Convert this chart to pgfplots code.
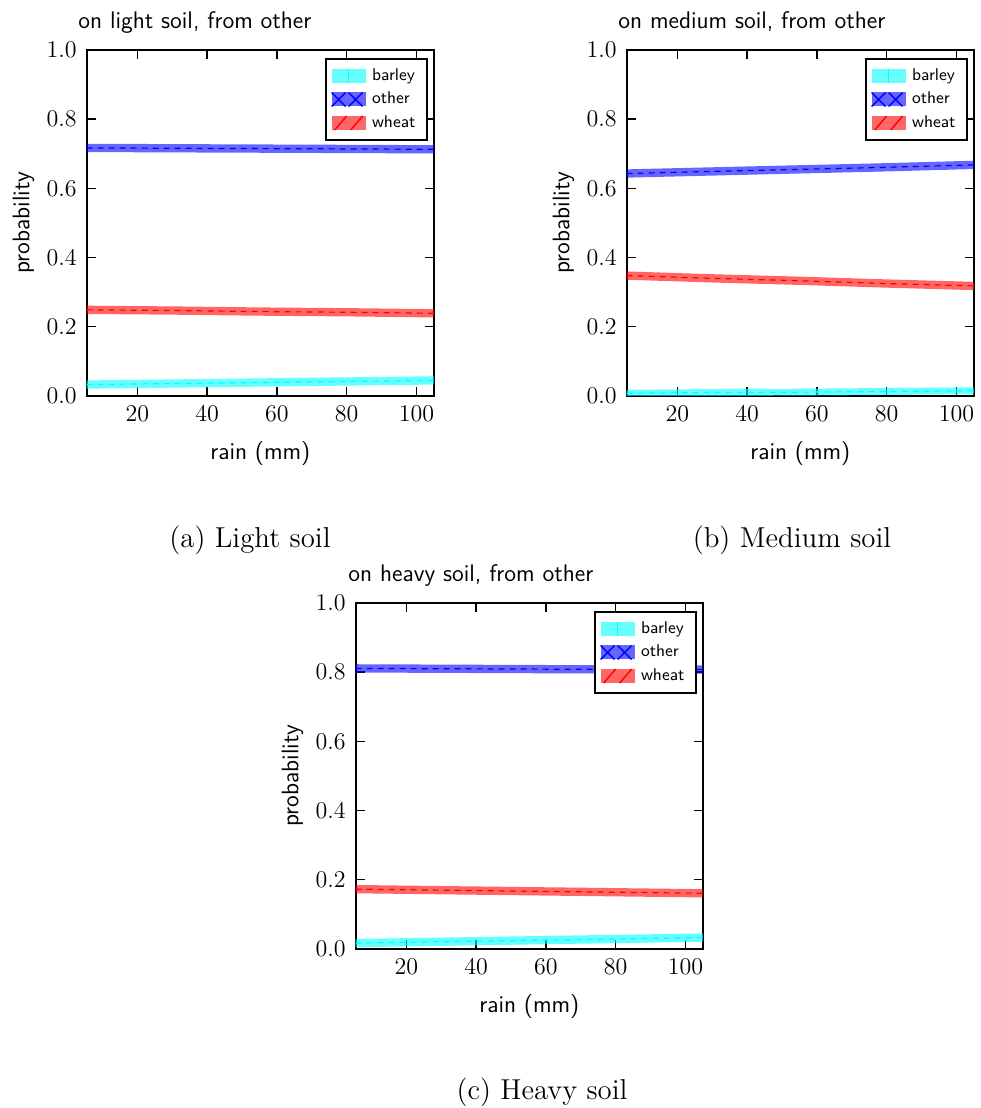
\documentclass[border=0pt]{standalone}
\usepackage{pgfplots}
\pgfplotsset{compat=1.18}
\usepackage{pgfplotstable}
\usepgfplotslibrary{fillbetween}

\definecolor{mcyan}{rgb}{0,1,1}
\definecolor{mblue}{rgb}{0,0,1}
\definecolor{mred}{rgb}{1,0,0}

\pgfplotstableread{
x     b     bl    bh    o     ol    oh    w     wl    wh
5.5   0.033 0.021 0.045 0.717 0.705 0.729 0.249 0.237 0.261
30    0.036 0.024 0.048 0.716 0.704 0.728 0.247 0.235 0.259
55    0.039 0.027 0.051 0.715 0.703 0.727 0.244 0.232 0.256
80    0.042 0.030 0.054 0.714 0.702 0.726 0.242 0.230 0.254
105   0.045 0.033 0.057 0.713 0.701 0.725 0.239 0.227 0.251
}\lighttab
\pgfplotstableread{
x     b     bl    bh    o     ol    oh    w     wl    wh
5.5   0.008 0.000 0.018 0.643 0.631 0.655 0.348 0.336 0.360
30    0.010 0.000 0.020 0.649 0.637 0.661 0.340 0.328 0.352
55    0.011 0.001 0.021 0.655 0.643 0.667 0.333 0.321 0.345
80    0.013 0.003 0.023 0.661 0.649 0.673 0.325 0.313 0.337
105   0.015 0.005 0.025 0.668 0.656 0.680 0.318 0.306 0.330
}\mediumtab
\pgfplotstableread{
x     b     bl    bh    o     ol    oh    w     wl    wh
5.5   0.017 0.005 0.029 0.811 0.799 0.823 0.173 0.161 0.185
30    0.021 0.009 0.033 0.810 0.798 0.822 0.170 0.158 0.182
55    0.025 0.013 0.037 0.809 0.797 0.821 0.167 0.155 0.179
80    0.029 0.017 0.041 0.808 0.796 0.820 0.164 0.152 0.176
105   0.033 0.021 0.045 0.808 0.796 0.820 0.161 0.149 0.173
}\heavytab

\pgfplotsset{
  common/.style={
    scale only axis, width=173.6pt, height=173pt,
    anchor=south west,
    xmin=5.5, xmax=105, ymin=0, ymax=1,
    xtick={20,40,60,80,100},
    ytick={0,0.2,0.4,0.6,0.8,1.0},
    yticklabel style={/pgf/number format/fixed,/pgf/number format/fixed zerofill,/pgf/number format/precision=1, xshift=-1.5pt},
    xticklabel style={yshift=-1.5pt},
    ticklabel style={font=\fontsize{12}{14.4}\selectfont},
    tick align=inside, major tick length=4.5pt,
    tick style={black, line width=0.7pt},
    axis line style={line width=1.1pt},
    xlabel={rain (mm)}, ylabel={probability},
    every axis x label/.style={at={(rel axis cs:0.5,-0.165)}, anchor=center, font=\sffamily\fontsize{12}{14.4}\selectfont},
    every axis y label/.style={at={(rel axis cs:-0.182,0.5)}, anchor=center, rotate=90, font=\sffamily\fontsize{12}{14.4}\selectfont},
    legend style={at={(rel axis cs:0.983,0.977)}, anchor=north east,
      draw=black, line width=1.1pt, font=\sffamily\fontsize{8.5}{10}\selectfont,
      inner sep=2.5pt, row sep=0pt, nodes={inner xsep=3.2pt, inner ysep=2.2pt}},
    legend cell align=left,
    clip=true,
  },
}

\newcommand{\band}[5]{% table, lo, hi, mid, color
  \addplot[name path=lo#2, draw=none, forget plot] table[x=x,y=#2]{#1};
  \addplot[name path=hi#2, draw=none, forget plot] table[x=x,y=#3]{#1};
  \addplot[fill=#5, fill opacity=0.6, draw=none, forget plot] fill between[of=lo#2 and hi#2];
  \addplot[#5, line width=0.6pt, dash pattern=on 3pt off 2.5pt, forget plot] table[x=x,y=#4]{#1};
}

\newcommand{\legendstuff}{%
  \addlegendimage{legend image code/.code={
    \path[draw=none, draw opacity=0, fill=mcyan, fill opacity=0.6] (0pt,-3.5pt) rectangle (17pt,3.5pt);
    \path[draw=mcyan, draw opacity=1, line width=0.8pt] (8.5pt,-3.5pt)--(8.5pt,3.5pt);}}
  \addlegendentry{barley}
  \addlegendimage{legend image code/.code={
    \path[draw=none, draw opacity=0, fill=mblue, fill opacity=0.6] (0pt,-3.5pt) rectangle (17pt,3.5pt);
    \path[draw=mblue, draw opacity=1, line width=0.7pt] (0pt,3.5pt)--(7pt,-3.5pt) (0pt,-3.5pt)--(7pt,3.5pt)
      (8.5pt,3.5pt)--(15.5pt,-3.5pt) (8.5pt,-3.5pt)--(15.5pt,3.5pt);}}
  \addlegendentry{other}
  \addlegendimage{legend image code/.code={
    \path[draw=none, draw opacity=0, fill=mred, fill opacity=0.6] (0pt,-3.5pt) rectangle (17pt,3.5pt);
    \path[draw=mred, draw opacity=1, line width=0.7pt] (1.5pt,-3.5pt)--(7.5pt,3.5pt) (9.5pt,-3.5pt)--(15.5pt,3.5pt);}}
  \addlegendentry{wheat}
}

\begin{document}
\begin{tikzpicture}
\path (0pt,0pt) rectangle (489.5pt,554pt);

\begin{axis}[common, at={(43.35pt,356pt)}]
  \band{\lighttab}{bl}{bh}{b}{mcyan}
  \band{\lighttab}{ol}{oh}{o}{mblue}
  \band{\lighttab}{wl}{wh}{w}{mred}
  \legendstuff
\end{axis}

\begin{axis}[common, at={(313.35pt,356pt)}]
  \band{\mediumtab}{bl}{bh}{b}{mcyan}
  \band{\mediumtab}{ol}{oh}{o}{mblue}
  \band{\mediumtab}{wl}{wh}{w}{mred}
  \legendstuff
\end{axis}

\begin{axis}[common, at={(177.85pt,79.5pt)}]
  \band{\heavytab}{bl}{bh}{b}{mcyan}
  \band{\heavytab}{ol}{oh}{o}{mblue}
  \band{\heavytab}{wl}{wh}{w}{mred}
  \legendstuff
\end{axis}

\node[anchor=base west, font=\sffamily\fontsize{12}{14.4}\selectfont, inner sep=0pt] at (39pt,539.5pt) {on light soil, from other};
\node[anchor=base west, font=\sffamily\fontsize{12}{14.4}\selectfont, inner sep=0pt] at (309pt,539.5pt) {on medium soil, from other};
\node[anchor=base west, font=\sffamily\fontsize{12}{14.4}\selectfont, inner sep=0pt] at (174pt,263pt) {on heavy soil, from other};

\node[font=\fontsize{14.4}{17}\selectfont, inner sep=0pt] at (125pt,284pt) {(a) Light soil};
\node[font=\fontsize{14.4}{17}\selectfont, inner sep=0pt] at (396pt,284pt) {(b) Medium soil};
\node[font=\fontsize{14.4}{17}\selectfont, inner sep=0pt] at (271pt,8pt) {(c) Heavy soil};
\end{tikzpicture}
\end{document}
